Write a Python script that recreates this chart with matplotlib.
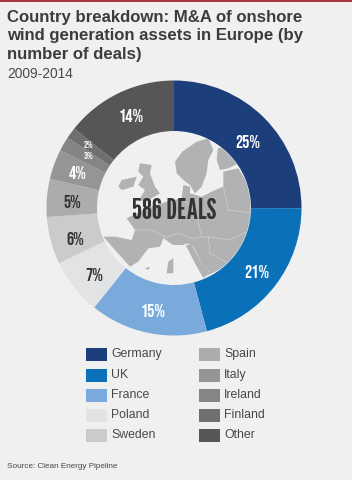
import math
import logging
import matplotlib
matplotlib.use("Agg")
import matplotlib.pyplot as plt
from matplotlib.patches import Polygon, Circle
logging.getLogger("matplotlib.font_manager").setLevel(logging.ERROR)

categories = ["Germany", "UK", "France", "Poland", "Sweden", "Spain", "Italy", "Ireland", "Finland", "Other"]
values = [25, 20.8, 14.9, 7.1, 6, 4.8, 3.8, 1.8, 1.4, 14.3]
labels = ["25%", "21%", "15%", "7%", "6%", "5%", "4%", "3%", "2%", "14%"]
colors = ["#1c3f7c", "#0a70b8", "#7aaadb", "#e2e3e5", "#cbcbcb", "#acacae", "#959597", "#858587", "#6f6f71", "#565658"]
label_colors = ["white", "white", "white", "#333333", "#333333", "#333333", "white", "white", "white", "white"]
title_lines = ["Country breakdown: M&A of onshore", "wind generation assets in Europe (by", "number of deals)"]

NARROW = ["League Gothic", "Antonio", "Oswald", "Bebas Neue", "Archivo Narrow", "Asap Condensed", "DejaVu Sans"]
LABEL_FONT = ["Bebas Neue", "Oswald", "Archivo Narrow", "Asap Condensed", "DejaVu Sans"]
BODY = ["Liberation Sans"]
# small label nudges in pixels, to follow the reference's hand placement
nudge = {"25%": (2, 6), "21%": (2, 1), "15%": (0, 3), "7%": (0, 3), "6%": (0, 4), "5%": (0, 2),
         "4%": (-1, 0), "3%": (3, -1), "2%": (-3, -4), "14%": (1, -1)}

W, H = 352, 480
BG = "#f0f0f0"
fig = plt.figure(figsize=(W / 100, H / 100), dpi=100, facecolor=BG)
bg = fig.add_axes([0, 0, 1, 1])
bg.set_xlim(0, W); bg.set_ylim(H, 0); bg.axis("off")
bg.add_patch(plt.Rectangle((0, 0), W, 2, color="#a8343c", lw=0))
for yy, line in zip([17.5, 35.5, 54], title_lines):
    bg.text(7, yy, line, fontsize=12.1, fontweight="bold", family=BODY, color="#3c3c3e", va="center", ha="left")
bg.text(7, 74, "2009-2014", fontsize=9.9, family=BODY, color="#4a4a4c", va="center")

cx, cy, R, r = 174, 208, 127.5, 77
ax = fig.add_axes([(cx - R) / W, 1 - (cy + R) / H, 2 * R / W, 2 * R / H])
ax.pie(values, colors=colors, startangle=90, counterclock=False, radius=1, normalize=True,
       wedgeprops=dict(width=1 - r / R, linewidth=0))
ax.set_xlim(-1, 1); ax.set_ylim(-1, 1)
ax.set_zorder(1); ax.patch.set_alpha(0)

cum = 0
fs = {"2%": 7, "3%": 7}
for v, l, c in zip(values, labels, label_colors):
    a = math.radians(90 - (cum + v / 2) * 360 / sum(values))
    cum += v
    dx, dy = nudge[l]
    ax.text(0.8 * math.cos(a) + dx / R, 0.8 * math.sin(a) - dy / R, l, color=c, ha="center", va="center",
            fontsize=fs.get(l, 13), family=LABEL_FONT)

def px(pts):
    return [(95 + x / 3, 130 + y / 3) for x, y in pts]

clip = Circle((cx, cy), r - 0.5, transform=bg.transData)
land = [
    [(240,95),(262,65),(305,35),(340,25),(355,60),(340,90),(335,130),(320,170),(300,190),(285,165),(265,150),(245,130)],
    [(368,55),(385,50),(430,100),(400,115),(375,120),(365,90)],
    [(385,125),(430,115),(475,190),(475,290),(440,370),(370,420),(330,440),(345,425),(320,400),(295,350),(275,340),(265,345),(235,345),(205,325),(195,350),(160,355),(130,395),(105,410),(60,360),(25,320),(60,320),(110,330),(120,300),(95,265),(125,250),(170,230),(215,215),(260,205),(265,165),(285,170),(285,190),(320,200),(350,185),(385,170)],
    [(135,100),(170,105),(165,130),(180,170),(195,190),(170,205),(130,215),(150,180),(130,165),(145,140),(130,125)],
    [(80,150),(125,140),(115,170),(80,180),(70,170)],
    [(220,395),(235,385),(235,430),(215,430)],
    [(150,415),(165,410),(160,420)],
    [(272,345),(290,345),(320,400),(345,425),(325,445),(300,400)],
]
for s in land:
    p = Polygon(px(s), closed=True, facecolor="#b1b2b4", edgecolor="none", transform=bg.transData, zorder=1)
    bg.add_patch(p); p.set_clip_path(clip)
borders = [
    [(205,325),(250,310),(290,325),(340,320),(400,330),(470,300)],
    [(260,205),(300,240),(320,320)],
    [(385,170),(400,240),(470,250)],
    [(120,300),(170,300),(210,320)],
    [(340,320),(345,370),(400,400)],
]
for s in borders:
    xs_, ys_ = zip(*px(s))
    ln, = bg.plot(xs_, ys_, color="#cfd0d2", lw=0.5, zorder=2)
    ln.set_clip_path(clip)
bg.text(cx, 211, "586 DEALS", fontsize=21, family=NARROW, color="#333335", ha="center", va="center", zorder=5)

xs = [86, 199]
ys = [354.5, 375, 395, 415.5, 435.5]
for i, (name, col) in enumerate(zip(categories, colors)):
    x = xs[i // 5]; y = ys[i % 5]
    bg.add_patch(plt.Rectangle((x, y - 6.5), 21, 13, facecolor=col, lw=0))
    bg.text(x + 25, y, name, fontsize=8.8, family=BODY, color="#48484a", va="center")
bg.text(7, 466.5, "Source: Clean Energy Pipeline", fontsize=5.9, family=BODY, color="#48484a", va="center")
bg.set_xlim(0, W); bg.set_ylim(H, 0)
fig.savefig("out.png", dpi=100, facecolor=fig.get_facecolor())
